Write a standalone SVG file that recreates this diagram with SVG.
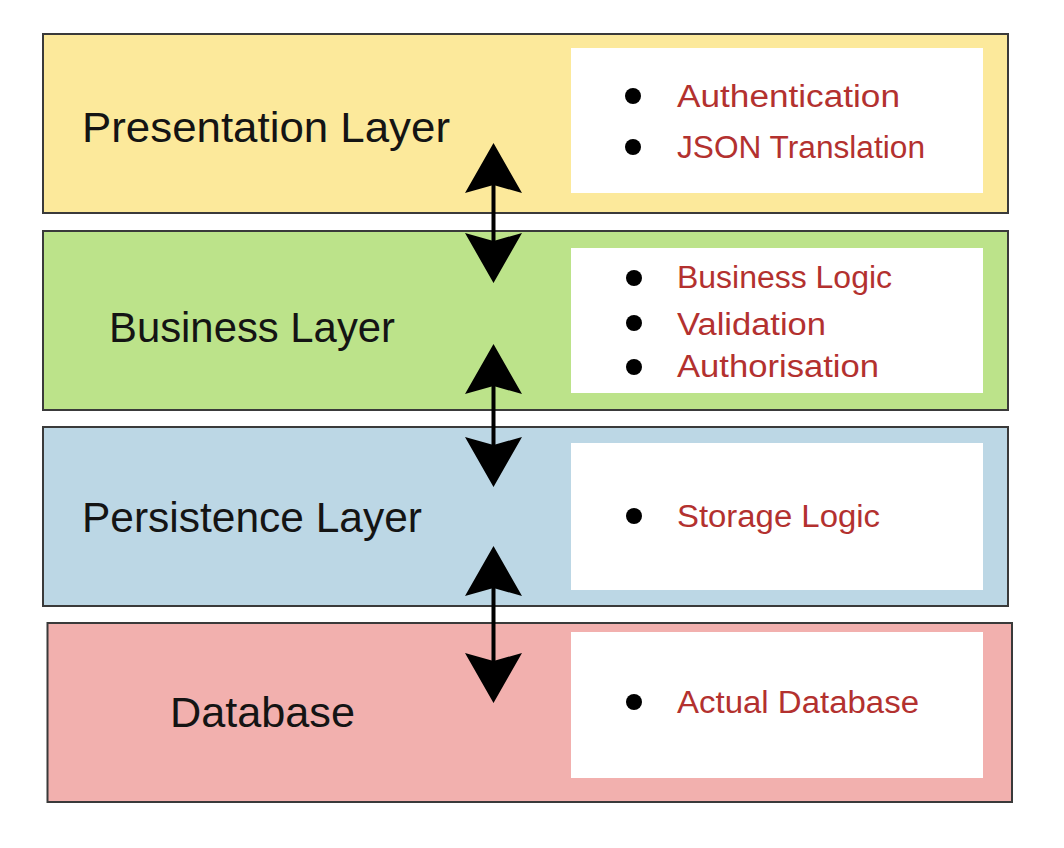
<svg xmlns="http://www.w3.org/2000/svg" width="1064" height="848" viewBox="0 0 1064 848">
<defs>
<style>
.layer{stroke:#3a3a3a;stroke-width:2}
.inner{fill:#ffffff}
.title{font-family:"Liberation Sans",Arial,sans-serif;font-size:43px;fill:#141414}
.item{font-family:"Liberation Sans",Arial,sans-serif;font-size:31px;fill:#b3312f}
.bullet{fill:#000000}
.conn{stroke:#000000;stroke-width:4;fill:none;marker-start:url(#head);marker-end:url(#head)}
</style>
<marker id="head" markerUnits="userSpaceOnUse" markerWidth="120" markerHeight="120" refX="0" refY="0" orient="auto-start-reverse" overflow="visible">
<path d="M8,0 L-42,-28.5 L-34,0 L-42,28.5 Z" fill="#000000"/>
</marker>
</defs>
<rect width="1064" height="848" fill="#ffffff"/>
<g id="presentation">
<rect class="layer" x="43" y="34" width="965" height="179" fill="#fce99b"/>
<rect class="inner" x="571" y="48" width="412" height="145"/>
<text class="title" x="82" y="142" textLength="368" lengthAdjust="spacingAndGlyphs">Presentation Layer</text>
<circle class="bullet" cx="633" cy="96" r="8"/>
<circle class="bullet" cx="633" cy="147" r="8"/>
<text class="item" x="677" y="107" textLength="223" lengthAdjust="spacingAndGlyphs">Authentication</text>
<text class="item" x="677" y="158" textLength="248" lengthAdjust="spacingAndGlyphs">JSON Translation</text>
</g>
<g id="business">
<rect class="layer" x="43" y="231" width="965" height="179" fill="#bce38a"/>
<rect class="inner" x="571" y="248" width="412" height="145"/>
<text class="title" x="109" y="342" textLength="286" lengthAdjust="spacingAndGlyphs">Business Layer</text>
<circle class="bullet" cx="634" cy="278" r="8"/>
<circle class="bullet" cx="634" cy="323" r="8"/>
<circle class="bullet" cx="634" cy="367" r="8"/>
<text class="item" x="677" y="288" textLength="215" lengthAdjust="spacingAndGlyphs">Business Logic</text>
<text class="item" x="677" y="335" textLength="149" lengthAdjust="spacingAndGlyphs">Validation</text>
<text class="item" x="677" y="377" textLength="202" lengthAdjust="spacingAndGlyphs">Authorisation</text>
</g>
<g id="persistence">
<rect class="layer" x="43" y="427" width="965" height="179" fill="#bcd7e5"/>
<rect class="inner" x="571" y="443" width="412" height="147"/>
<text class="title" x="82" y="532" textLength="340" lengthAdjust="spacingAndGlyphs">Persistence Layer</text>
<circle class="bullet" cx="634" cy="516" r="8"/>
<text class="item" x="677" y="527" textLength="203" lengthAdjust="spacingAndGlyphs">Storage Logic</text>
</g>
<g id="database">
<rect class="layer" x="47.5" y="623" width="964.5" height="179" fill="#f2b0ae"/>
<rect class="inner" x="571" y="632" width="412" height="146"/>
<text class="title" x="170" y="727" textLength="185" lengthAdjust="spacingAndGlyphs">Database</text>
<circle class="bullet" cx="634" cy="702" r="8"/>
<text class="item" x="677" y="713" textLength="242" lengthAdjust="spacingAndGlyphs">Actual Database</text>
</g>
<g id="connectors">
<line class="conn" x1="493.5" y1="151" x2="493.5" y2="275"/>
<line class="conn" x1="493.5" y1="352" x2="493.5" y2="479"/>
<line class="conn" x1="493.5" y1="554" x2="493.5" y2="695"/>
</g>
</svg>
